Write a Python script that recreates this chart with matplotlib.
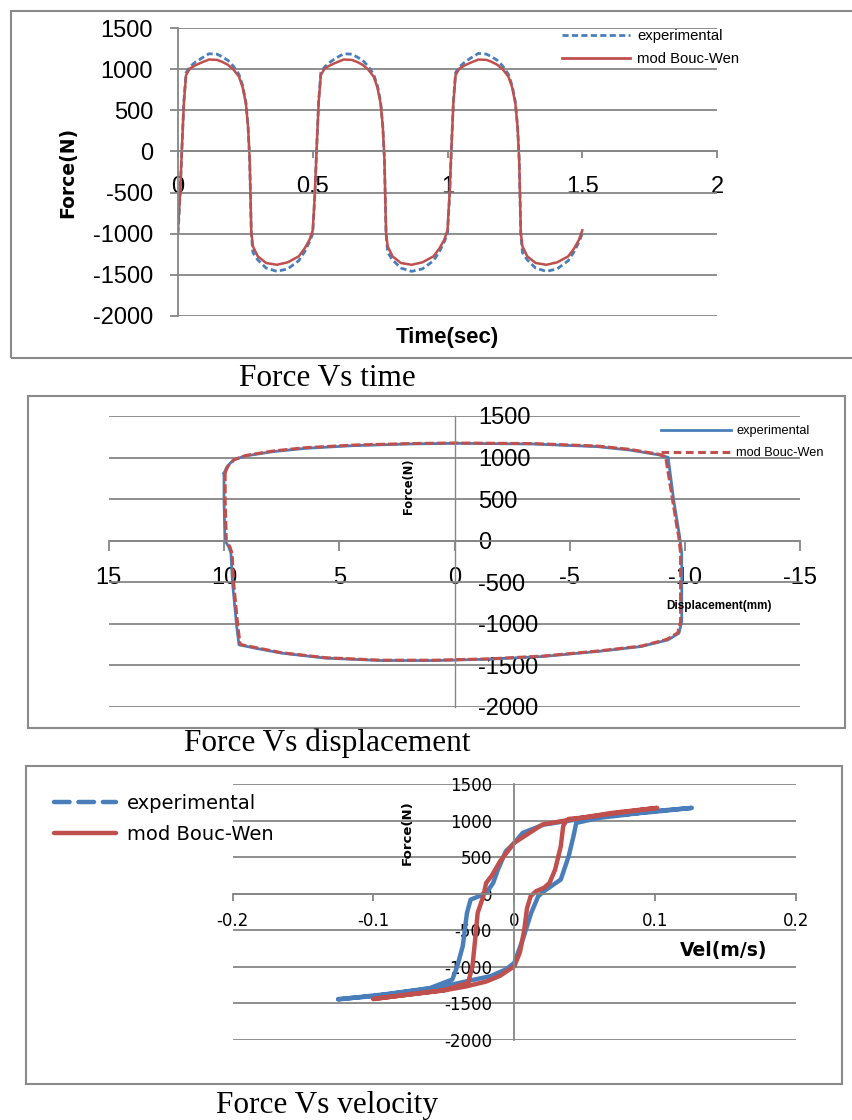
import matplotlib
matplotlib.use("Agg")
import matplotlib.pyplot as plt
from matplotlib.lines import Line2D
from matplotlib.patches import Rectangle

plt.rcParams['axes.unicode_minus'] = False

W, H = 852, 1120

# ---- Force vs time ----
time_s = [0.000, 0.008, 0.014, 0.022, 0.030, 0.044, 0.065, 0.085, 0.115, 0.145, 0.165, 0.185, 0.205, 0.226,
          0.240, 0.252, 0.260, 0.266, 0.272, 0.278, 0.296, 0.327, 0.367, 0.407, 0.448, 0.470, 0.488,
          0.500, 0.508, 0.514, 0.522, 0.530, 0.544, 0.565, 0.585, 0.615, 0.645, 0.665, 0.685, 0.705, 0.726,
          0.740, 0.752, 0.760, 0.766, 0.772, 0.778, 0.796, 0.827, 0.867, 0.907, 0.948, 0.970, 0.988,
          1.000, 1.008, 1.014, 1.022, 1.030, 1.044, 1.065, 1.085, 1.115, 1.145, 1.165, 1.185, 1.205, 1.226,
          1.240, 1.252, 1.260, 1.266, 1.272, 1.278, 1.296, 1.327, 1.367, 1.407, 1.448, 1.470, 1.488,
          1.500]
force_time_exp = [-1000, -520, 0, 620, 960, 1030, 1090, 1130, 1190, 1185, 1150, 1110, 1040, 940,
                  800, 600, 300, -100, -1000, -1230, -1320, -1420, -1460, -1430, -1330, -1220, -1100,
                  -1000, -520, 0, 620, 960, 1030, 1090, 1135, 1190, 1185, 1150, 1110, 1040, 940,
                  800, 600, 300, -100, -1000, -1230, -1320, -1420, -1460, -1430, -1330, -1220, -1100,
                  -1000, -520, 0, 620, 960, 1030, 1090, 1135, 1195, 1185, 1150, 1110, 1040, 940,
                  800, 600, 300, -100, -1000, -1230, -1320, -1420, -1460, -1430, -1330, -1220, -1100,
                  -1000]
force_time_mod = [-960, -500, 0, 600, 930, 1010, 1050, 1080, 1120, 1115, 1090, 1055, 1000, 912,
                  780, 580, 300, -100, -990, -1155, -1277, -1358, -1380, -1350, -1277, -1180, -1075,
                  -960, -500, 0, 600, 930, 1010, 1050, 1080, 1120, 1115, 1090, 1055, 1000, 912,
                  780, 580, 300, -100, -990, -1155, -1277, -1358, -1380, -1350, -1277, -1180, -1075,
                  -960, -500, 0, 600, 930, 1010, 1050, 1080, 1120, 1115, 1090, 1055, 1000, 912,
                  780, 580, 300, -100, -990, -1155, -1277, -1358, -1380, -1350, -1277, -1180, -1075,
                  -960]
time_ticks = [0, 0.5, 1, 1.5, 2]
time_tick_labels = ['0', '0.5', '1', '1.5', '2']
force_ticks = [-2000, -1500, -1000, -500, 0, 500, 1000, 1500]

# ---- Force vs displacement ----
disp_exp = [10.0, 9.87, 9.6, 9.1, 7.9, 6.5, 4.4, 2.0, 0.0, -3.4, -6.2, -7.6, -8.9, -9.26,
            -9.5, -9.7, -9.76, -9.85, -9.85, -9.73, -9.26, -8.1, -6.2, -3.84, -1.5, 0.87, 3.2,
            5.6, 7.5, 8.65, 9.35, 9.45, 9.63, 9.7, 9.8, 9.96, 10.0, 10.0]
force_disp_exp = [810, 890, 970, 1018, 1070, 1110, 1143, 1163, 1171, 1163, 1131, 1090, 1030, 1002,
                  489, 150, 48, -152, -975, -1115, -1195, -1275, -1335, -1395, -1428, -1444, -1444,
                  -1415, -1355, -1295, -1255, -1035, -513, -152, -72, 0, 489, 810]
disp_mod = [9.95, 9.82, 9.55, 9.05, 7.9, 6.5, 4.4, 2.0, 0.0, -3.4, -6.2, -7.6, -8.85, -9.15,
            -9.45, -9.65, -9.72, -9.8, -9.8, -9.68, -9.2, -8.1, -6.2, -3.84, -1.5, 0.87, 3.2,
            5.6, 7.5, 8.6, 9.3, 9.4, 9.58, 9.65, 9.75, 9.9, 9.95, 9.95]
force_disp_mod = [820, 900, 975, 1025, 1078, 1118, 1150, 1168, 1175, 1168, 1138, 1098, 1040, 1010,
                  495, 150, 48, -152, -975, -1110, -1190, -1270, -1330, -1390, -1424, -1440, -1440,
                  -1410, -1350, -1290, -1250, -1030, -513, -152, -72, 0, 489, 820]
disp_ticks = [15, 10, 5, 0, -5, -10, -15]
disp_tick_labels = ['15', '10', '5', '0', '-5', '-10', '-15']

# ---- Force vs velocity ----
vel_exp = [-0.125, -0.1, -0.056, -0.044, -0.03, -0.017, -0.006, 0.0, 0.006, 0.012, 0.017, 0.021,
           0.033, 0.0386, 0.042, 0.044, 0.06, 0.08, 0.098, 0.126, 0.1, 0.07, 0.05, 0.021, 0.006,
           0.0, -0.006, -0.0116, -0.015, -0.019, -0.025, -0.031, -0.0336, -0.0366, -0.0405, -0.044,
           -0.06, -0.09, -0.125]
force_vel_exp = [-1440, -1400, -1286, -1240, -1180, -1127, -1035, -944, -625, -260, -32, 36,
                 196, 515, 789, 972, 1040, 1085, 1131, 1177, 1125, 1075, 1035, 949, 835,
                 698, 584, 333, 150, 36, -32, -78, -260, -716, -990, -1172,
                 -1290, -1370, -1445]
vel_mod = [-0.1, -0.08, -0.05, -0.035, -0.02, -0.01, 0.0, 0.004, 0.007, 0.009, 0.0116, 0.0154,
           0.021, 0.025, 0.029, 0.033, 0.0347, 0.0366, 0.0386, 0.05, 0.07, 0.1014, 0.07, 0.05,
           0.02, 0.0, -0.01, -0.016, -0.02, -0.022, -0.026, -0.0278, -0.0297, -0.0328, -0.05,
           -0.08, -0.1]
force_vel_mod = [-1437, -1390, -1320, -1270, -1200, -1120, -990, -800, -500, -200, -32, 36,
                 82, 150, 333, 652, 926, 995, 1026, 1045, 1100, 1177, 1110, 1050,
                 950, 700, 450, 250, 150, -32, -260, -625, -990, -1218, -1320,
                 -1390, -1440]
vel_ticks = [-0.2, -0.1, 0, 0.1, 0.2]
vel_tick_labels = ['-0.2', '-0.1', '0', '0.1', '0.2']

labels = ['experimental', 'mod Bouc-Wen']

BLUE = '#4a7ebb'
RED = '#c0504d'
GRID = '#868686'
BORDER = '#8a8a8a'
SANS = 'Liberation Sans'
WIDE = 'DejaVu Sans'
SERIF = 'Liberation Serif'


def px_axes(fig, left, top, right, bottom):
    return fig.add_axes([left / W, 1 - bottom / H, (right - left) / W, (bottom - top) / H])


def frame(fig, left, top, right, bottom):
    fig.add_artist(Rectangle((left / W, 1 - bottom / H), (right - left) / W, (bottom - top) / H,
                             transform=fig.transFigure, fill=False, edgecolor=BORDER, lw=1.5))


def ftext(fig, x, y, s, **kw):
    fig.text(x / W, 1 - y / H, s, ha='center', va='center', **kw)


def excel_axes(ax, xlim, xticks, xlabels, yside):
    # axis lines cross at zero, like the spreadsheet chart
    for s in ax.spines.values():
        s.set_visible(False)
    ax.spines['bottom'].set_visible(True)
    ax.spines['bottom'].set_position(('data', 0))
    ax.spines['bottom'].set_color(GRID)
    ax.spines['bottom'].set_linewidth(1.3)
    if yside == 'right':
        ax.yaxis.tick_right()
    sp = ax.spines[yside]
    sp.set_visible(True)
    sp.set_position(('data', 0))
    sp.set_color(GRID)
    ax.set_xlim(*xlim)
    ax.set_ylim(-2000, 1500)
    ax.set_yticks(force_ticks)
    ax.set_yticklabels([str(v) for v in force_ticks])
    ax.set_xticks(xticks)
    ax.set_xticklabels(xlabels)
    ax.patch.set_alpha(0)
    ax.grid(axis='y', color=GRID, lw=1.3)
    ax.grid(axis='x', visible=False)
    ax.set_axisbelow(True)


fig = plt.figure(figsize=(W / 100, H / 100), dpi=100)

# ================= panel 1 : force vs time =================
frame(fig, 11, 11, 870, 358)
ax1 = px_axes(fig, 178, 28.3, 717, 315.7)
excel_axes(ax1, (0, 2), time_ticks, time_tick_labels, 'left')
ax1.spines['left'].set_linewidth(1.3)
ax1.tick_params(axis='y', length=6, color=GRID, width=1.3, pad=12, labelsize=17, labelfontfamily=SANS)
ax1.tick_params(axis='x', length=5, color=GRID, width=1.3, pad=13, labelsize=17, labelfontfamily=SANS)
ax1.plot(time_s, force_time_exp, color=BLUE, lw=2, dashes=(2.2, 1.2))
ax1.plot(time_s, force_time_mod, color=RED, lw=1.8)
h1 = [Line2D([], [], color=BLUE, lw=2, dashes=(2.2, 1.2)), Line2D([], [], color=RED, lw=2)]
ax1.legend(h1, labels, loc='upper left', bbox_to_anchor=(562 / W, 1 - 29 / H),
           bbox_transform=fig.transFigure, frameon=False, prop={'family': SANS, 'size': 10.7},
           handlelength=4.6, handletextpad=0.45, labelspacing=0.6, borderpad=0, borderaxespad=0)
fig.text(68 / W, 1 - 172 / H, 'Force(N)', rotation=90, ha='center', va='center',
         family=WIDE, weight='bold', fontsize=13.5)
ftext(fig, 447, 338, 'Time(sec)', family=SANS, weight='bold', fontsize=16)
ftext(fig, 327, 378, 'Force Vs time', family=SERIF, fontsize=22.5)

# ================= panel 2 : force vs displacement =================
frame(fig, 28, 396, 845, 728)
ax2 = px_axes(fig, 108.7, 416, 800.5, 706.7)
excel_axes(ax2, (15, -15), disp_ticks, disp_tick_labels, 'right')
ax2.spines['right'].set_linewidth(1)
ax2.tick_params(axis='y', length=0, pad=17, labelsize=17, labelfontfamily=SANS)
ax2.tick_params(axis='x', length=7, color=GRID, width=1.3, pad=12, labelsize=17, labelfontfamily=SANS)
ax2.plot(disp_exp, force_disp_exp, color=BLUE, lw=2)
ax2.plot(disp_mod, force_disp_mod, color=RED, lw=2.2, dashes=(3, 1))
h2 = [Line2D([], [], color=BLUE, lw=2), Line2D([], [], color=RED, lw=2.2, dashes=(2.5, 1.5))]
ax2.legend(h2, labels, loc='upper left', bbox_to_anchor=(661 / W, 1 - 425 / H),
           bbox_transform=fig.transFigure, frameon=False, prop={'family': SANS, 'size': 9.2},
           handlelength=5.5, handletextpad=0.4, labelspacing=0.8, borderpad=0, borderaxespad=0)
fig.text(408.7 / W, 1 - 486.7 / H, 'Force(N)', rotation=90, ha='center', va='center',
         family=WIDE, weight='bold', fontsize=8.3)
ftext(fig, 719, 605.7, 'Displacement(mm)', family=SANS, weight='bold', fontsize=8.5)
ftext(fig, 327, 743, 'Force Vs displacement', family=SERIF, fontsize=22.5)

# ================= panel 3 : force vs velocity =================
frame(fig, 25.5, 766, 842, 1084)
ax3 = px_axes(fig, 232.6, 784.3, 796, 1040)
excel_axes(ax3, (-0.2, 0.2), vel_ticks, vel_tick_labels, 'left')
ax3.spines['left'].set_linewidth(1.3)
ax3.tick_params(axis='y', length=0, pad=16, labelsize=12, labelfontfamily=WIDE)
ax3.tick_params(axis='x', length=5, color=GRID, width=1.3, pad=8, labelsize=12, labelfontfamily=WIDE)
ax3.plot(vel_exp, force_vel_exp, color=BLUE, lw=3.2, solid_capstyle='round', solid_joinstyle='round')
ax3.plot(vel_mod, force_vel_mod, color=RED, lw=3.2, solid_capstyle='round', solid_joinstyle='round')
h3 = [Line2D([], [], color=BLUE, lw=3.2, dashes=(3.5, 2), dash_capstyle='round'),
      Line2D([], [], color=RED, lw=3.2, solid_capstyle='round')]
ax3.legend(h3, labels, loc='upper left', bbox_to_anchor=(54 / W, 1 - 794 / H),
           bbox_transform=fig.transFigure, frameon=False, prop={'family': WIDE, 'size': 14},
           handlelength=3.2, handletextpad=0.55, labelspacing=0.62, borderpad=0, borderaxespad=0)
fig.text(407.6 / W, 1 - 833 / H, 'Force(N)', rotation=90, ha='center', va='center',
         family=WIDE, weight='bold', fontsize=9.5)
ftext(fig, 724, 950.7, 'Vel(m/s)', family=WIDE, weight='bold', fontsize=13.5)
ftext(fig, 327, 1106, 'Force Vs velocity', family=SERIF, fontsize=22.5)

fig.savefig('out.png', dpi=100)
